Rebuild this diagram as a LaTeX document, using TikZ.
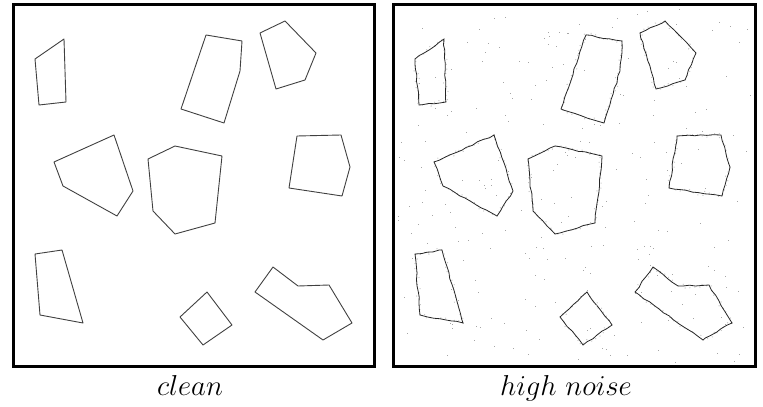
\documentclass[tikz,border=0pt]{standalone}
\usepackage{tikz}
\usetikzlibrary{decorations.pathmorphing}

% the nine polygons of the scene, in pixel coordinates
\newcommand{\polygonset}[1]{%
  \draw[#1] (35,59) -- (64,39) -- (66,102) -- (39,105) -- cycle;
  \draw[#1] (206,35) -- (242,41) -- (240,71) -- (224,123) -- (181,109) -- cycle;
  \draw[#1] (260,33) -- (285,21) -- (316,53) -- (305,80) -- (276,89) -- cycle;
  \draw[#1] (54,162) -- (114,135) -- (133,191) -- (117,216) -- (63,186) -- cycle;
  \draw[#1] (148,159) -- (175,146) -- (222,156) -- (215,223) -- (175,234) -- (153,211) -- cycle;
  \draw[#1] (297,136) -- (341,135) -- (350,167) -- (342,196) -- (289,188) -- cycle;
  \draw[#1] (35,254) -- (62,250) -- (83,323) -- (40,315) -- cycle;
  \draw[#1] (207,292) -- (232,325) -- (203,345) -- (180,317) -- cycle;
  \draw[#1] (273,267) -- (298,286) -- (329,285) -- (352,323) -- (323,340) -- (255,292) -- cycle;
}

\begin{document}
\begin{tikzpicture}[x=0.5pt, y=-0.5pt,
    frame/.style={line width=1.5pt, black},
    edge/.style={line width=0.45pt, black!75, line join=round},
    fuzz/.style={line width=0.5pt, black!22, dotted,
                 decorate, decoration={random steps, segment length=2, amplitude=1.3}},
    noisyedge/.style={line width=0.4pt, black!85,
                 decorate, decoration={random steps, segment length=3, amplitude=0.35}},
    noisedot/.style={fill=black!35},
    caption/.style={font=\fontsize{13.5}{16}\selectfont, anchor=base}
  ]
  \useasboundingbox (0,0) rectangle (763,406);
  \pgfmathsetseed{7}

  % clean image
  \draw[frame] (13.5,4.5) rectangle (374.5,366);
  \polygonset{edge}
  \node[caption] (clean) at (190,395) {$clean$};

  % noisy image
  \draw[frame] (393.5,4.5) rectangle (755,366);
  \begin{scope}[xshift=190pt]
    \polygonset{fuzz}
    \polygonset{noisyedge}
  \end{scope}
  \foreach \i in {1,...,230} {
    \pgfmathsetmacro{\px}{397+rnd*354}
    \pgfmathsetmacro{\py}{8+rnd*354}
    \fill[noisedot] (\px,\py) rectangle ++(1,1);
  }
  \node[caption] (noisy) at (566,395) {$high\ noise$};
\end{tikzpicture}
\end{document}
